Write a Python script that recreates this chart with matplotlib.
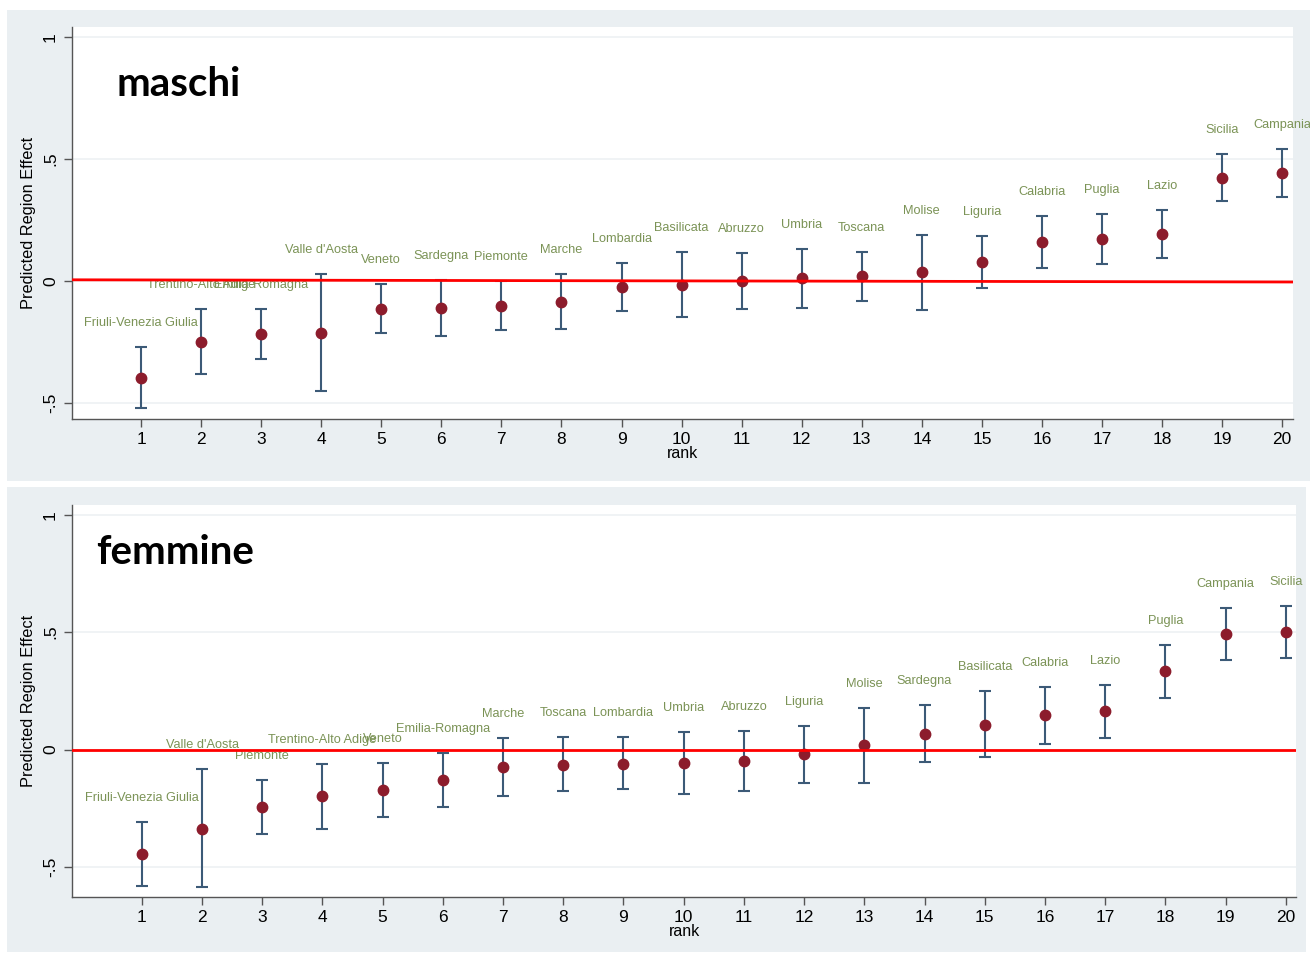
import matplotlib.pyplot as plt
from matplotlib.patches import Rectangle

# ranks 1..20
ranks = list(range(1, 21))

# maschi (top panel)
m_regions = ["Friuli-Venezia Giulia", "Trentino-Alto Adige", "Emilia-Romagna", "Valle d'Aosta",
             "Veneto", "Sardegna", "Piemonte", "Marche", "Lombardia", "Basilicata", "Abruzzo",
             "Umbria", "Toscana", "Molise", "Liguria", "Calabria", "Puglia", "Lazio", "Sicilia",
             "Campania"]
m_est = [-0.397, -0.250, -0.217, -0.212, -0.113, -0.111, -0.101, -0.086, -0.025, -0.015,
         0.000, 0.011, 0.019, 0.036, 0.077, 0.159, 0.172, 0.193, 0.423, 0.443]
m_lo = [-0.522, -0.381, -0.318, -0.450, -0.212, -0.224, -0.201, -0.198, -0.122, -0.148,
        -0.113, -0.111, -0.082, -0.119, -0.030, 0.052, 0.071, 0.094, 0.327, 0.346]
m_hi = [-0.269, -0.116, -0.115, 0.029, -0.011, 0.004, 0.002, 0.027, 0.072, 0.120,
        0.115, 0.131, 0.120, 0.190, 0.186, 0.266, 0.273, 0.292, 0.523, 0.542]
m_ref = [0.005, -0.004]

# femmine (bottom panel)
f_regions = ["Friuli-Venezia Giulia", "Valle d'Aosta", "Piemonte", "Trentino-Alto Adige",
             "Veneto", "Emilia-Romagna", "Marche", "Toscana", "Lombardia", "Umbria", "Abruzzo",
             "Liguria", "Molise", "Sardegna", "Basilicata", "Calabria", "Lazio", "Puglia",
             "Campania", "Sicilia"]
f_est = [-0.446, -0.338, -0.243, -0.198, -0.173, -0.131, -0.075, -0.064, -0.060, -0.057,
         -0.050, -0.021, 0.018, 0.068, 0.106, 0.145, 0.163, 0.334, 0.491, 0.501]
f_lo = [-0.580, -0.587, -0.358, -0.337, -0.286, -0.244, -0.196, -0.178, -0.169, -0.188,
        -0.175, -0.142, -0.142, -0.054, -0.033, 0.025, 0.051, 0.220, 0.379, 0.390]
f_hi = [-0.310, -0.085, -0.128, -0.060, -0.058, -0.016, 0.050, 0.052, 0.052, 0.075,
        0.077, 0.099, 0.176, 0.190, 0.247, 0.264, 0.275, 0.447, 0.603, 0.613]
f_ref = [0.0, 0.0]

yticks = [-0.5, 0, 0.5, 1]
ytick_labels = ["-.5", "0", ".5", "1"]

W, H = 1310, 955
fig = plt.figure(figsize=(W / 100, H / 100), dpi=100)
fig.patch.set_facecolor("white")

bg = "#eaeff2"
err_col = "#3c5a77"
dot_col = "#8c1c2c"
lab_col = "#7b9356"


def px(x0, y0, x1, y1):
    # pixel box (top-left origin) -> figure fraction [l, b, w, h]
    return [x0 / W, 1 - y1 / H, (x1 - x0) / W, (y1 - y0) / H]


def panel(box, bgbox, est, lo, hi, names, ref, ylim, xlim, title, title_xy):
    fig.add_artist(Rectangle(bgbox[:2], bgbox[2], bgbox[3], transform=fig.transFigure,
                             facecolor=bg, edgecolor="none", zorder=0))
    ax = fig.add_axes(box)
    ax.set_facecolor("white")
    yerr = [[e - l for e, l in zip(est, lo)], [h - e for e, h in zip(est, hi)]]
    ax.errorbar(ranks, est, yerr=yerr, fmt="none", ecolor=err_col, elinewidth=1.5,
                capsize=4, capthick=1.5, zorder=3)
    ax.plot(ranks, est, "o", color=dot_col, markersize=7.5, zorder=4)
    for r, h, n in zip(ranks, hi, names):
        ax.annotate(n, (r, h), xytext=(0, 24), textcoords="offset pixels", ha="center",
                    va="center", fontsize=9.2, color=lab_col, family="Liberation Sans",
                    annotation_clip=False, zorder=5)
    ax.plot(xlim, ref, color="red", linewidth=2, zorder=6)
    ax.set_xlim(xlim)
    ax.set_ylim(ylim)
    ax.set_yticks(yticks)
    ax.set_yticklabels(ytick_labels, rotation=90, va="center", fontsize=12.5,
                       family="Liberation Sans")
    ax.set_xticks(ranks)
    ax.set_xticklabels([str(r) for r in ranks], fontsize=12.5, family="Liberation Sans")
    ax.grid(axis="y", color="#eef1f3", linewidth=1.2)
    ax.set_axisbelow(True)
    for s in ["top", "right"]:
        ax.spines[s].set_visible(False)
    for s in ["left", "bottom"]:
        ax.spines[s].set_color("#555555")
        ax.spines[s].set_linewidth(1.0)
    ax.tick_params(axis="both", colors="#555555", length=6, width=1.0, labelcolor="black")
    ax.tick_params(axis="y", pad=4)
    ax.set_ylabel("Predicted Region Effect", fontsize=11.8, family="Liberation Sans",
                  labelpad=5)
    ax.set_xlabel("rank", fontsize=11.5, family="Liberation Sans", labelpad=-1)
    fig.text(title_xy[0] / W, 1 - title_xy[1] / H, title, fontsize=29, fontweight="bold",
             family="Lato", ha="left", va="center")
    return ax


panel(px(72, 27, 1293, 419), px(7, 10, 1310, 481), m_est, m_lo, m_hi, m_regions, m_ref,
      (-0.566, 1.042), (-0.15, 20.18), "maschi", (117, 85))
panel(px(72, 505, 1296, 897), px(7, 487, 1306, 952), f_est, f_lo, f_hi, f_regions, f_ref,
      (-0.628, 1.041), (-0.16, 20.17), "femmine", (96, 553))

fig.savefig("out.png", dpi=100)
